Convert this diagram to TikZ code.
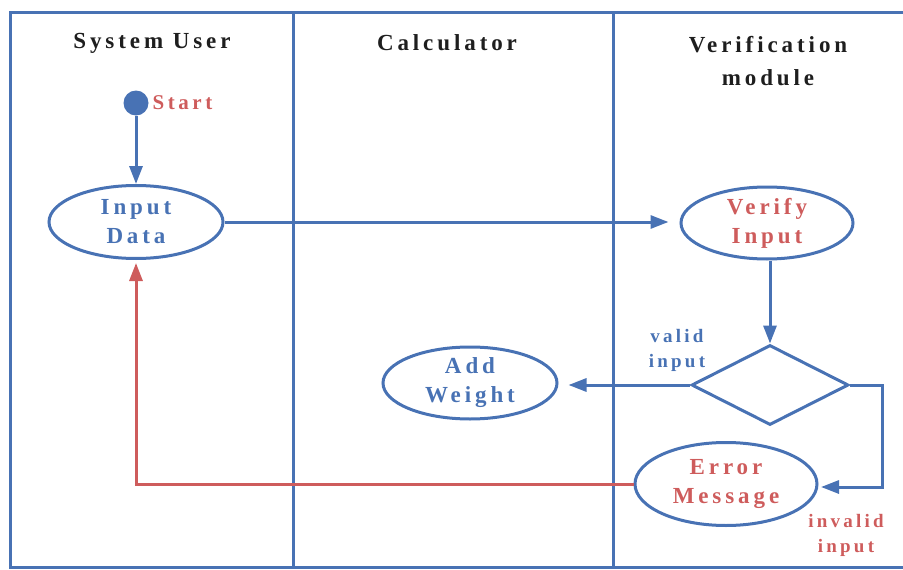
\documentclass[tikz,border=0pt]{standalone}
\usepackage{fontspec}
\setmainfont{Liberation Serif}[LetterSpace=17]
\usetikzlibrary{arrows.meta,shapes.geometric}
\definecolor{lblue}{RGB}{72,114,180}
\definecolor{lred}{RGB}{206,92,92}
\definecolor{hdr}{RGB}{30,30,30}
\tikzset{
  frame/.style={draw=lblue,line width=3pt},
  conn/.style={draw=lblue,line width=3pt,-{Triangle[length=18pt,width=13pt]}},
  rconn/.style={draw=lred,line width=3pt,-{Triangle[length=18pt,width=13pt]}},
  oval/.style={ellipse,draw=lblue,line width=3pt,inner sep=0pt,align=center,font=\fontsize{23}{29}\selectfont\bfseries},
  hdrtext/.style={text=hdr,align=center,font=\fontsize{23}{33}\selectfont\bfseries},
  lbl/.style={align=center,font=\fontsize{19}{25}\selectfont\bfseries},
}
\begin{document}
\begin{tikzpicture}[x=1pt,y=-1pt]
\useasboundingbox (0,0) rectangle (903,570);
% lanes
\draw[frame] (905,12) -- (10,12) -- (10,567) -- (905,567);
\draw[frame] (293,12) -- (293,567);
\draw[frame] (613,12) -- (613,567);
% headers
\node[hdrtext] (h1) at (152,43) {System User};
\node[hdrtext] (h2) at (447,43) {Calculator};
\node[hdrtext] (h3) at (768,61) {Verification\\module};
% nodes
\node[circle,fill=lblue,minimum size=25pt,inner sep=0pt] (start) at (136,103) {};
\node[lbl,text=lred,anchor=west,font=\fontsize{21}{25}\selectfont\bfseries] (startl) at (149,103) {Start};
\node[oval,text=lblue,minimum width=174pt,minimum height=73pt] (input) at (136,222) {Input\\Data};
\node[oval,text=lred,minimum width=172pt,minimum height=72pt] (verify) at (767,223) {Verify\\Input};
\node[diamond,draw=lblue,line width=3pt,minimum width=157pt,minimum height=80pt,inner sep=0pt,aspect=2] (dia) at (770,385) {};
\node[oval,text=lblue,minimum width=174pt,minimum height=72pt] (add) at (470,383) {Add\\Weight};
\node[oval,text=lred,minimum width=182pt,minimum height=83pt] (err) at (726,484) {Error\\Message};
\node[lbl,text=lblue] (valid) at (677,350) {valid\\input};
\node[lbl,text=lred] (invalid) at (846,535) {invalid\\input};
% connectors
\draw[conn] (start) -- (input);
\draw[conn,shorten >=11pt] (input.east) -- (input.east -| verify.west);
\draw[conn] (verify.south -| dia.north) -- (dia.north);
\draw[conn,shorten >=10pt] (dia.west) -- (dia.west -| add.east);
\coordinate (bend) at (882,385);
\coordinate (errin) at (817,487);
\draw[conn,shorten >=4pt] (dia.east) -- (bend) |- (errin);
\draw[rconn,shorten >=3pt] (err.west) -| (input.south);
\end{tikzpicture}
\end{document}
